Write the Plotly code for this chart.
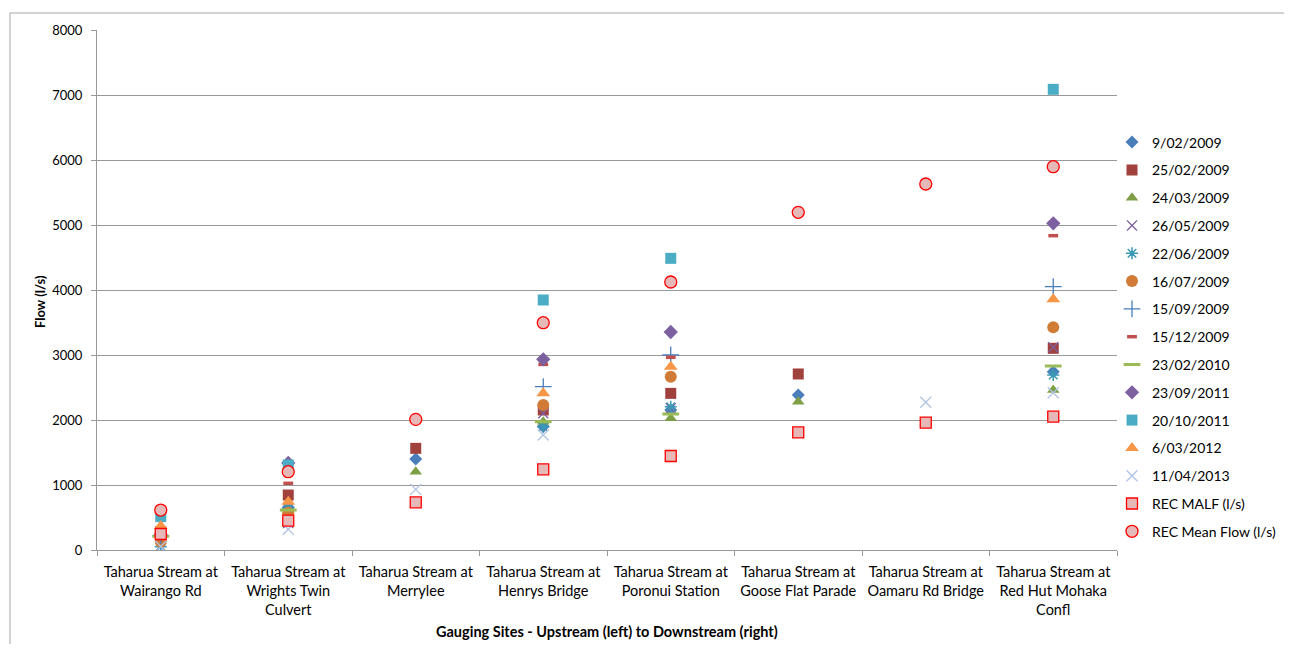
import plotly.graph_objects as go

categories = [
    "Taharua Stream at<br>Wairango Rd",
    "Taharua Stream at<br>Wrights Twin<br>Culvert",
    "Taharua Stream at<br>Merrylee",
    "Taharua Stream at<br>Henrys Bridge",
    "Taharua Stream at<br>Poronui Station",
    "Taharua Stream at<br>Goose Flat Parade",
    "Taharua Stream at<br>Oamaru Rd Bridge",
    "Taharua Stream at<br>Red Hut Mohaka<br>Confl",
]

d_09_02_2009 = [250, 656, 1400, 1900, 2154, 2385, None, 2744]
d_25_02_2009 = [282, 846, 1564, 2154, 2410, 2708, None, 3103]
d_24_03_2009 = [230, 600, 1205, 1974, 2026, 2282, None, 2462]
d_26_05_2009 = [60, 415, None, 2103, 2180, None, None, 3118]
d_22_06_2009 = [51, 640, None, 1897, 2205, None, None, 2692]
d_16_07_2009 = [128, 574, None, 2230, 2667, None, None, 3426]
d_15_09_2009 = [220, None, None, 2513, 3000, None, None, 4051]
d_15_12_2009 = [300, 1026, None, 2856, 2964, None, None, 4836]
d_23_02_2010 = [210, 615, None, 1974, 2092, None, None, 2831]
d_23_09_2011 = [240, 1340, None, 2933, 3354, None, None, 5026]
d_20_10_2011 = [513, 1308, None, 3846, 4487, None, None, 7087]
d_06_03_2012 = [369, 744, None, 2410, 2820, None, None, 3856]
d_11_04_2013 = [55, 318, 933, 1769, None, None, 2272, 2420]
rec_malf = [246, 451, 733, 1241, 1446, 1810, 1959, 2051]
rec_mean = [615, 1205, 2010, 3497, 4123, 5195, 5631, 5897]

series = [
    ("9/02/2009", d_09_02_2009, "diamond", 10, "#4a7ebb", None, 0),
    ("25/02/2009", d_25_02_2009, "square", 11, "#a0413e", None, 0),
    ("24/03/2009", d_24_03_2009, "triangle-up", 11, "#7f9f47", None, 0),
    ("26/05/2009", d_26_05_2009, "x-thin-open", 10, "#7d60a0", "#7d60a0", 1.3),
    ("22/06/2009", d_22_06_2009, "asterisk-open", 10, "#3a9ab5", "#3a9ab5", 1.5),
    ("16/07/2009", d_16_07_2009, "circle", 12, "#d07c36", None, 0),
    ("15/09/2009", d_15_09_2009, "cross-thin-open", 12, "#4a7ebb", "#4a7ebb", 1.3),
    ("15/12/2009", d_15_12_2009, "line-ew-open", 7, "#c0504d", "#c0504d", 3.5),
    ("23/02/2010", d_23_02_2010, "line-ew-open", 12, "#9bbb59", "#9bbb59", 3),
    ("23/09/2011", d_23_09_2011, "diamond", 11, "#7d60a0", None, 0),
    ("20/10/2011", d_20_10_2011, "square", 11, "#4bacc6", None, 0),
    ("6/03/2012", d_06_03_2012, "triangle-up", 12, "#f79646", None, 0),
    ("11/04/2013", d_11_04_2013, "x-thin-open", 11, "#b0c3e3", "#b0c3e3", 1.3),
    ("REC MALF (l/s)", rec_malf, "square", 11, "#e6b9b8", "#ff0000", 1.3),
    ("REC Mean Flow (l/s)", rec_mean, "circle", 12, "#e6b9b8", "#ff0000", 1.3),
]

fig = go.Figure()
for i, (name, vals, sym, size, col, lcol, lw) in enumerate(series):
    marker = dict(symbol=sym, size=size, color=col)
    if lcol is not None:
        marker["line"] = dict(color=lcol, width=lw)
    else:
        marker["line"] = dict(width=0)
    fig.add_trace(go.Scatter(
        x=categories, y=vals, mode="markers", name=name,
        marker=marker, legendgroup=f"g{i}",
    ))

font_family = "Lato, 'Liberation Sans', Arial, sans-serif"

# page has an 8px body margin; figure sized to fit the 1292x652 window
W, H = 1276, 636
L, T, PW, PH = 89, 22, 1020, 520


def px(xpage):
    return (xpage - 8 - L) / PW


def py(ypage):
    return (T + PH - (ypage - 8)) / PH


fig.update_layout(
    width=W, height=H,
    margin=dict(l=L, r=W - L - PW, t=T, b=H - T - PH, autoexpand=False),
    paper_bgcolor="white", plot_bgcolor="white",
    font=dict(family=font_family, size=13, color="#000000"),
    showlegend=True,
    legend=dict(
        x=px(1112), y=py(126.5), xanchor="left", yanchor="top",
        font=dict(family=font_family, size=14, color="#000000"),
        tracegroupgap=6.6, itemwidth=30,
        bgcolor="rgba(0,0,0,0)",
    ),
    xaxis=dict(
        type="category", categoryorder="array", categoryarray=categories,
        showgrid=False, showline=True, linecolor="#999999", linewidth=1,
        ticks="outside", tickson="boundaries", ticklen=5, tickcolor="#999999",
        tickfont=dict(size=14.5), range=[-0.5, 7.5], ticklabelstandoff=9,
    ),
    yaxis=dict(
        range=[0, 8000], dtick=1000, tickformat="d",
        showgrid=True, gridcolor="#999999", gridwidth=1,
        showline=True, linecolor="#999999", linewidth=1,
        ticks="outside", ticklen=5, tickcolor="#999999",
        tickfont=dict(size=13), zeroline=False, ticklabelstandoff=6,
    ),
    annotations=[
        dict(text="<b>Gauging Sites - Upstream (left) to Downstream (right)</b>",
             xref="paper", yref="paper", x=px(607), y=py(632),
             xanchor="center", yanchor="middle", showarrow=False,
             font=dict(size=14.5)),
        dict(text="<b>Flow (l/s)</b>", textangle=-90,
             xref="paper", yref="paper", x=px(40), y=py(302),
             xanchor="center", yanchor="middle", showarrow=False,
             font=dict(size=13)),
    ],
    shapes=[dict(
        type="rect", xref="paper", yref="paper",
        x0=px(10), x1=px(1310),
        y0=py(720), y1=py(13),
        line=dict(color="#a6a6a6", width=1), fillcolor="rgba(0,0,0,0)", layer="below",
    )],
)

fig.write_html("out.html")
